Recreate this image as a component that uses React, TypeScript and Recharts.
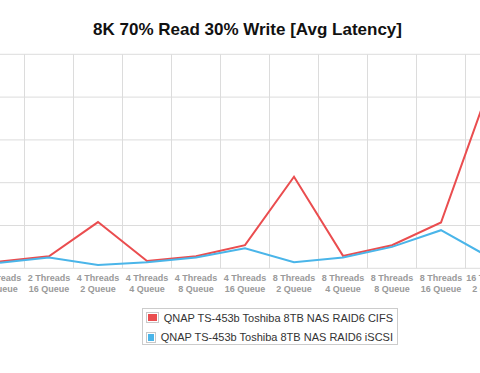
import { CartesianGrid, Legend, Line, LineChart, XAxis, YAxis } from "recharts";

const threadLabels = [
  "2 Threads",
  "2 Threads",
  "4 Threads",
  "4 Threads",
  "4 Threads",
  "4 Threads",
  "8 Threads",
  "8 Threads",
  "8 Threads",
  "8 Threads",
  "16 Threads",
];
const queueLabels = [
  "8 Queue",
  "16 Queue",
  "2 Queue",
  "4 Queue",
  "8 Queue",
  "16 Queue",
  "2 Queue",
  "4 Queue",
  "8 Queue",
  "16 Queue",
  "2 Queue",
];
const cifsLatency = [0.8, 1.4, 5.4, 0.85, 1.4, 2.7, 10.7, 1.45, 2.7, 5.35, 21.4];
const iscsiLatency = [0.65, 1.25, 0.4, 0.7, 1.25, 2.35, 0.7, 1.25, 2.5, 4.45, 1.25];
const yTicks = [0, 5, 10, 15, 20, 25];

const seriesNames = [
  "QNAP TS-453b Toshiba 8TB NAS RAID6 CIFS",
  "QNAP TS-453b Toshiba 8TB NAS RAID6 iSCSI",
];
const seriesColors = ["#ea4d4f", "#4ab5e9"];

const rows = threadLabels.map((t, i) => ({
  idx: i,
  cifs: cifsLatency[i],
  iscsi: iscsiLatency[i],
}));
const labelTicks = rows.map((r) => r.idx);
const gridTicks = [...labelTicks.map((i) => i - 0.5), labelTicks.length - 0.5];
const xDomain = [-0.5, labelTicks.length - 0.5];

const FONT = '"Liberation Sans", Arial, Helvetica, sans-serif';

const CategoryTick = (props: any) => {
  const { x, y, payload } = props;
  const i = payload.value;
  return (
    <text
      x={x}
      y={y}
      textAnchor="middle"
      fill="#9a9a9a"
      fontSize={9}
      fontWeight="bold"
      fontFamily={FONT}
    >
      <tspan x={x} dy={12.7}>
        {threadLabels[i]}
      </tspan>
      <tspan x={x} dy={11}>
        {queueLabels[i]}
      </tspan>
    </text>
  );
};

const renderLegend = () => (
  <div
    style={{
      border: "1px solid #cccccc",
      padding: "1px 4px 0 3.3px",
      fontFamily: FONT,
      fontSize: 11,
      color: "#333",
      background: "#fff",
      boxSizing: "border-box",
      height: 37.3,
    }}
  >
    {seriesNames.map((name, i) => (
      <div
        key={name}
        style={{
          display: "flex",
          alignItems: "center",
          height: 14,
          marginTop: i === 0 ? 1 : 5.6,
          whiteSpace: "nowrap",
        }}
      >
        <span
          style={{
            display: "inline-block",
            width: 15,
            height: 11,
            boxSizing: "border-box",
            border: "1px solid #c8c8c8",
            padding: 1,
            backgroundColor: seriesColors[i],
            backgroundClip: "content-box",
            marginRight: 4.3,
          }}
        />
        <span>{name}</span>
      </div>
    ))}
  </div>
);

export default function App() {
  return (
    <div
      style={{
        position: "absolute",
        left: 0,
        top: 0,
        width: 480,
        height: 373,
        overflow: "hidden",
        background: "#fff",
        fontFamily: FONT,
      }}
    >
      <div
        style={{
          position: "absolute",
          left: 0,
          top: 20.6,
          width: 495,
          textAlign: "center",
          fontSize: 17,
          lineHeight: "17px",
          fontWeight: "bold",
          color: "#111",
          whiteSpace: "nowrap",
        }}
      >
        8K 70% Read 30% Write [Avg Latency]
      </div>
      <div style={{ position: "absolute", left: -60, top: 0 }}>
        <LineChart
          width={600}
          height={373}
          data={rows}
          margin={{ top: 54.3, right: 25.5, bottom: 74.7, left: 35.5 }}
        >
          <XAxis
            xAxisId="grid"
            type="number"
            dataKey="idx"
            domain={xDomain}
            ticks={gridTicks}
            allowDataOverflow
            hide
          />
          <XAxis
            type="number"
            dataKey="idx"
            domain={xDomain}
            ticks={labelTicks}
            interval={0}
            axisLine={false}
            tickLine={false}
            tickSize={0}
            tickMargin={0}
            height={30}
            tick={<CategoryTick />}
            allowDataOverflow
          />
          <YAxis hide domain={[0, 25]} ticks={yTicks} />
          <CartesianGrid xAxisId="grid" stroke="#dcdcdc" strokeWidth={1} />
          <Legend
            layout="vertical"
            align="center"
            verticalAlign="middle"
            content={renderLegend}
            wrapperStyle={{ left: 201.7, top: 307.7, width: 256.3, height: "auto" }}
          />
          <Line
            dataKey="cifs"
            name={seriesNames[0]}
            stroke={seriesColors[0]}
            strokeWidth={2}
            dot={false}
            isAnimationActive={false}
          />
          <Line
            dataKey="iscsi"
            name={seriesNames[1]}
            stroke={seriesColors[1]}
            strokeWidth={2}
            dot={false}
            isAnimationActive={false}
          />
        </LineChart>
      </div>
    </div>
  );
}
